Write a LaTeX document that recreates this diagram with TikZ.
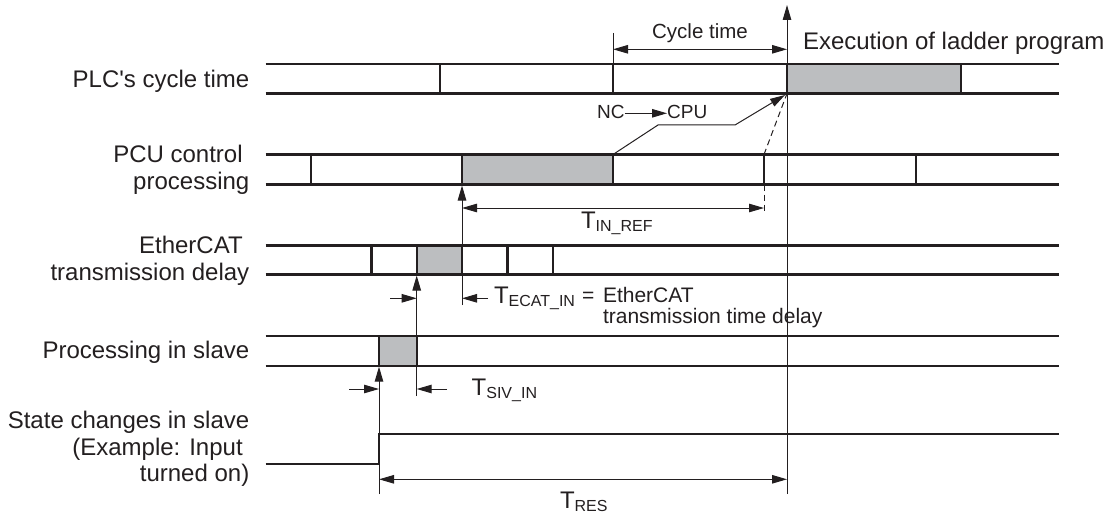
\documentclass[tikz,border=0pt]{standalone}
\usepackage{fontspec}
\setmainfont{Liberation Sans}
\newfontfamily\qfont{Liberation Sans}
\usetikzlibrary{arrows.meta}
\definecolor{ink}{HTML}{231F20}
\definecolor{boxgray}{HTML}{BCBEC0}
\newcommand\myfs[1]{\fontsize{#1}{#1}\selectfont}
\newcommand\Tsub[1]{T\raisebox{-3pt}{\myfs{16}#1}}
\tikzset{
  rowline/.style={draw=ink,line width=2.3pt},
  divline/.style={draw=ink,line width=2.3pt},
  thin/.style={draw=ink,line width=1pt},
  tip/.style={-{Triangle[length=15pt,width=8.5pt]}},
  tips/.style={{Triangle[length=15pt,width=8.5pt]}-{Triangle[length=15pt,width=8.5pt]}},
  dsh/.style={draw=ink,line width=1pt,dash pattern=on 6pt off 4pt},
  lab/.style={inner sep=0pt,outer sep=0pt,text=ink,font=\myfs{24}},
  labs/.style={inner sep=0pt,outer sep=0pt,text=ink,font=\myfs{21}},
}
\begin{document}
\begin{tikzpicture}[x=1pt,y=-1pt]
\path[use as bounding box] (0,0) rectangle (1118,516);

% ---------- gray boxes ----------
\fill[boxgray] (787,64) rectangle (961,93.5);
\fill[boxgray] (462,154.5) rectangle (613,184.5);
\fill[boxgray] (416.7,245.5) rectangle (462,274.5);
\fill[boxgray] (379,336) rectangle (416.7,365.7);

% ---------- row lines ----------
\foreach \ya/\yb in {64/93.5,154.5/184.5,245.5/274.5,336/365.7}{
  \draw[rowline] (265.7,\ya) -- (1059,\ya);
  \draw[rowline] (265.7,\yb) -- (1059,\yb);
}
% dividers
\foreach \x in {440,613,787,961}{\draw[divline] (\x,64) -- (\x,93.5);}
\foreach \x in {311,462,613,764,916}{\draw[divline] (\x,154.5) -- (\x,184.5);}
\foreach \x in {371.5,416.7,462,507.5,552.7}{\draw[divline] (\x,245.5) -- (\x,274.5);}
\foreach \x in {379,416.7}{\draw[divline] (\x,336) -- (\x,365.7);}

% state change
\draw[rowline,line cap=butt] (265.7,464.3) -- (379,464.3) -- (379,434.3) -- (1059,434.3);

% ---------- coordinates ----------
\coordinate (bigbot) at (787,494);
\coordinate (bigtop) at (787,5);
\coordinate (ctick) at (613,33);
\coordinate (ctickb) at (613,64);
\coordinate (ctL) at (613,49.3);
\coordinate (ctR) at (787,49.3);

\coordinate (lead0) at (613,154.5);
\coordinate (lead1) at (658,125);
\coordinate (lead2) at (735,125);
\coordinate (lead3) at (785,95);

\coordinate (dsA) at (764,154.5);
\coordinate (dsB) at (787,93.5);
\coordinate (dsC) at (764,184.5);
\coordinate (dsD) at (764,211);

\coordinate (inL) at (462,208);
\coordinate (inR) at (764,208);
\coordinate (v462a) at (462,185.5);
\coordinate (v462b) at (462,305);

\coordinate (v417a) at (416.7,275.5);
\coordinate (v417b) at (416.7,396);
\coordinate (ecL0) at (390,298.3);
\coordinate (ecL1) at (416.7,298.3);
\coordinate (ecR0) at (488,298.3);
\coordinate (ecR1) at (462,298.3);

\coordinate (v379a) at (379,366.7);
\coordinate (v379b) at (379,494);
\coordinate (svL0) at (349,389);
\coordinate (svL1) at (379,389);
\coordinate (svR0) at (447,389);
\coordinate (svR1) at (416.7,389);

\coordinate (resL) at (379,479.3);
\coordinate (resR) at (787,479.3);

% ---------- thin lines & arrows ----------
\draw[thin,tip] (bigbot) -- (bigtop);
\draw[thin] (ctick) -- (ctickb);
\draw[thin,tips] (ctL) -- (ctR);
\draw[thin,tip] (lead0) -- (lead1) -- (lead2) -- (lead3);
\draw[dsh] (dsA) -- (dsB);
\draw[dsh] (dsC) -- (dsD);
\draw[thin,tips] (inL) -- (inR);
\draw[thin,tip] (v462b) -- (v462a);
\draw[thin,tip] (v417b) -- (v417a);
\draw[thin,tip] (ecL0) -- (ecL1);
\draw[thin,tip] (ecR0) -- (ecR1);
\draw[thin,tip] (v379b) -- (v379a);
\draw[thin,tip] (svL0) -- (svL1);
\draw[thin,tip] (svR0) -- (svR1);
\draw[thin,tips] (resL) -- (resR);

% ---------- left labels ----------
\node[lab,anchor=base east] (l1) at (249.3,87.3) {PLC{\qfont'}s cycle time};
\node[lab,anchor=base east] (l2a) at (242.7,162.7) {PCU control};
\node[lab,anchor=base east] (l2b) at (249.3,189.5) {processing};
\node[lab,anchor=base east] (l3a) at (242.7,253.3) {EtherCAT};
\node[lab,anchor=base east] (l3b) at (249.3,280.5) {transmission delay};
\node[lab,anchor=base east] (l4) at (249.3,358.3) {Processing in slave};
\node[lab,anchor=base east] (l5a) at (249.3,428.3) {State changes in slave};
\node[lab,anchor=base east] (l5b) at (242.7,455) {(Example: Input};
\node[lab,anchor=base east] (l5c) at (249.3,481.7) {turned on)};

% ---------- other labels ----------
\node[inner sep=0pt,text=ink,font=\myfs{20.5},anchor=base] (cyc) at (700,39) {Cycle time};
\node[lab,anchor=base west] (exe) at (803,50) {Execution of ladder program};
\node[inner sep=0pt,text=ink,font=\myfs{19},anchor=base west] (nc) at (597,119) {NC};
\node[inner sep=0pt,text=ink,font=\myfs{19},anchor=base west] (cpu) at (667,119) {CPU};
\draw[thin,tip] (nc.east |- 0,113.3) -- (cpu.west |- 0,113.3);

\node[lab,anchor=base west] (tin) at (581,228) {\Tsub{IN\_REF}};
\node[lab,anchor=base west] (tec) at (494,303.3) {\Tsub{ECAT\_IN}};
\node[labs,anchor=base west] (eq) at (582,302) {=};
\node[labs,anchor=base west] (ec1) at (603,302) {EtherCAT};
\node[labs,anchor=base west] (ec2) at (603,323) {transmission time delay};
\node[lab,anchor=base west] (tsiv) at (471.7,395) {\Tsub{SIV\_IN}};
\node[lab,anchor=base west] (tres) at (560,508) {\Tsub{RES}};
\end{tikzpicture}
\end{document}
